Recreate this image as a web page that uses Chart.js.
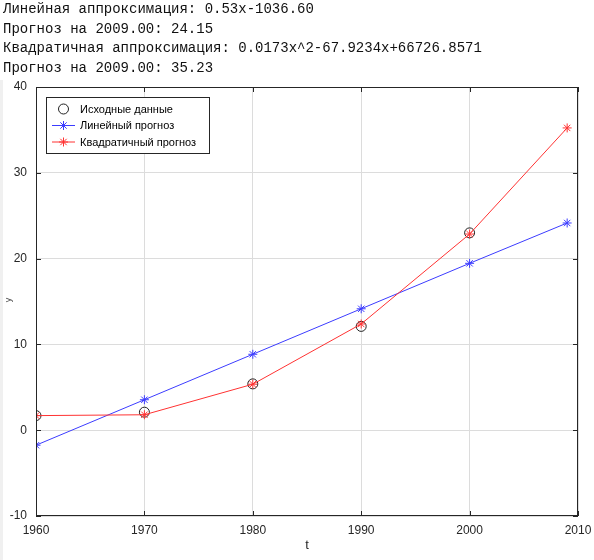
<!DOCTYPE html>
<html>
<head>
<meta charset="utf-8">
<script src="https://cdn.jsdelivr.net/npm/chart.js@4"></script>
<style>
  body { margin: 0; background: #fff; }
  #wrap { position: relative; width: 594px; height: 560px; }
  #chart { position: absolute; left: 0; top: 0; }
  #log { position: absolute; left: 3px; top: 0; margin: 0; font: 14px "Liberation Mono", monospace; line-height: 19.5px; color: #111; white-space: pre; }
  #strip { position: absolute; left: 0; top: 80px; width: 3px; height: 480px; background: #f0f0f0; }
</style>
</head>
<body>
<div id="wrap">
  <div id="strip"></div>
  <canvas id="chart" width="594" height="560"></canvas>
  <pre id="log"></pre>
</div>
<script>
var headerLines = [
  'Линейная аппроксимация: 0.53x-1036.60',
  'Прогноз на 2009.00: 24.15',
  'Квадратичная аппроксимация: 0.0173x^2-67.9234x+66726.8571',
  'Прогноз на 2009.00: 35.23'
];
var years = [1960, 1970, 1980, 1990, 2000];
var forecastYears = [1960, 1970, 1980, 1990, 2000, 2009];
var observed = [1.7, 2.1, 5.4, 12.1, 23.0];
var linearForecast = [-1.75, 3.55, 8.85, 14.15, 19.45, 24.15];
var quadraticForecast = [1.70, 1.80, 5.36, 12.38, 22.86, 35.23];
var xTicks = [1960, 1970, 1980, 1990, 2000, 2010];
var yTicks = [-10, 0, 10, 20, 30, 40];
var legendLabels = ['Исходные данные', 'Линейный прогноз', 'Квадратичный прогноз'];

document.getElementById('log').textContent = headerLines.join('\n');

function pairs(xs, ys) {
  return xs.map(function (x, i) { return { x: x, y: ys[i] }; });
}

var blue = 'rgb(60,60,255)';
var red = 'rgb(255,50,50)';
var axisColor = '#262626';
var sans = '"Liberation Sans", Arial, sans-serif';

// box, inward ticks, legend and y label
var octaveLook = {
  id: 'octaveLook',
  afterDraw: function (chart) {
    var ctx = chart.ctx, a = chart.chartArea;
    var xs = chart.scales.x, ys = chart.scales.y;
    ctx.save();
    ctx.strokeStyle = axisColor;
    ctx.lineWidth = 1;
    ctx.strokeRect(a.left + 0.5, a.top + 0.5, a.right - a.left - 1, a.bottom - a.top - 1);
    ctx.beginPath();
    xTicks.forEach(function (v) {
      var px = Math.round(xs.getPixelForValue(v)) + 0.5;
      ctx.moveTo(px, a.bottom); ctx.lineTo(px, a.bottom - 5);
      ctx.moveTo(px, a.top); ctx.lineTo(px, a.top + 5);
    });
    yTicks.forEach(function (v) {
      var py = Math.round(ys.getPixelForValue(v)) + 0.5;
      ctx.moveTo(a.left, py); ctx.lineTo(a.left + 5, py);
      ctx.moveTo(a.right, py); ctx.lineTo(a.right - 5, py);
    });
    ctx.stroke();

    // legend
    var lx = 46, ly = 97, lw = 163, lh = 56;
    ctx.fillStyle = '#fff';
    ctx.fillRect(lx, ly, lw, lh);
    ctx.strokeStyle = axisColor;
    ctx.strokeRect(lx + 0.5, ly + 0.5, lw, lh);
    ctx.font = '11px ' + sans;
    ctx.textBaseline = 'middle';
    ctx.textAlign = 'left';
    var rows = [109, 125.5, 142];
    rows.forEach(function (ry, i) {
      var ds = chart.data.datasets[i];
      if (i > 0) {
        ctx.strokeStyle = ds.borderColor;
        ctx.beginPath();
        ctx.moveTo(52, ry); ctx.lineTo(75, ry);
        ctx.stroke();
      }
      ctx.save();
      ctx.strokeStyle = ds.pointBorderColor;
      ctx.fillStyle = 'rgba(0,0,0,0)';
      ctx.lineWidth = 1;
      Chart.helpers.drawPoint(ctx, {
        pointStyle: ds.pointStyle, radius: ds.pointRadius, borderWidth: 1, rotation: 0
      }, 63.5, ry);
      ctx.restore();
      ctx.fillStyle = '#000';
      ctx.fillText(legendLabels[i], 80, ry + 0.5);
    });
    ctx.restore();

    // tiny y label at the far left
    ctx.save();
    ctx.translate(9, 300);
    ctx.rotate(-Math.PI / 2);
    ctx.fillStyle = '#444';
    ctx.font = '9px ' + sans;
    ctx.textAlign = 'center';
    ctx.textBaseline = 'middle';
    ctx.fillText('y', 0, 0);
    ctx.restore();
  }
};

new Chart(document.getElementById('chart').getContext('2d'), {
  type: 'line',
  data: {
    datasets: [
      {
        label: legendLabels[0],
        data: pairs(years, observed),
        showLine: false,
        pointStyle: 'circle',
        pointRadius: 5,
        pointBorderWidth: 1,
        pointBorderColor: '#222',
        pointBackgroundColor: 'rgba(0,0,0,0)',
        borderColor: '#222',
        order: 3
      },
      {
        label: legendLabels[1],
        data: pairs(forecastYears, linearForecast),
        borderColor: blue,
        borderWidth: 1,
        pointStyle: 'star',
        pointRadius: 4.5,
        pointBorderWidth: 1,
        pointBorderColor: blue,
        pointBackgroundColor: blue,
        tension: 0,
        order: 2
      },
      {
        label: legendLabels[2],
        data: pairs(forecastYears, quadraticForecast),
        borderColor: red,
        borderWidth: 1,
        pointStyle: 'star',
        pointRadius: 4.5,
        pointBorderWidth: 1,
        pointBorderColor: red,
        pointBackgroundColor: red,
        tension: 0,
        order: 1
      }
    ]
  },
  options: {
    responsive: false,
    animation: false,
    layout: { padding: { left: 0, right: 16, top: 87, bottom: 0 } },
    plugins: { legend: { display: false }, tooltip: { enabled: false } },
    scales: {
      x: {
        type: 'linear',
        min: 1960,
        max: 2010,
        afterBuildTicks: function (s) { s.ticks = xTicks.map(function (v) { return { value: v }; }); },
        afterFit: function (s) { s.height = 44; s.paddingLeft = 0; s.paddingRight = 0; },
        grid: { color: '#dcdcdc', drawTicks: false },
        border: { display: false },
        ticks: {
          color: axisColor, padding: 7, maxRotation: 0,
          font: { family: sans, size: 12 },
          callback: function (v) { return String(v); }
        },
        title: { display: true, text: 't', color: axisColor, padding: { top: 0, bottom: 7 }, font: { family: sans, size: 13 } }
      },
      y: {
        type: 'linear',
        min: -10,
        max: 40,
        afterBuildTicks: function (s) { s.ticks = yTicks.map(function (v) { return { value: v }; }); },
        afterFit: function (s) { s.width = 36; s.paddingTop = 0; s.paddingBottom = 0; },
        grid: { color: '#dcdcdc', drawTicks: false },
        border: { display: false },
        ticks: { color: axisColor, padding: 9, font: { family: sans, size: 12 }, callback: function (v) { return String(v); } }
      }
    }
  },
  plugins: [octaveLook]
});
</script>
</body>
</html>
